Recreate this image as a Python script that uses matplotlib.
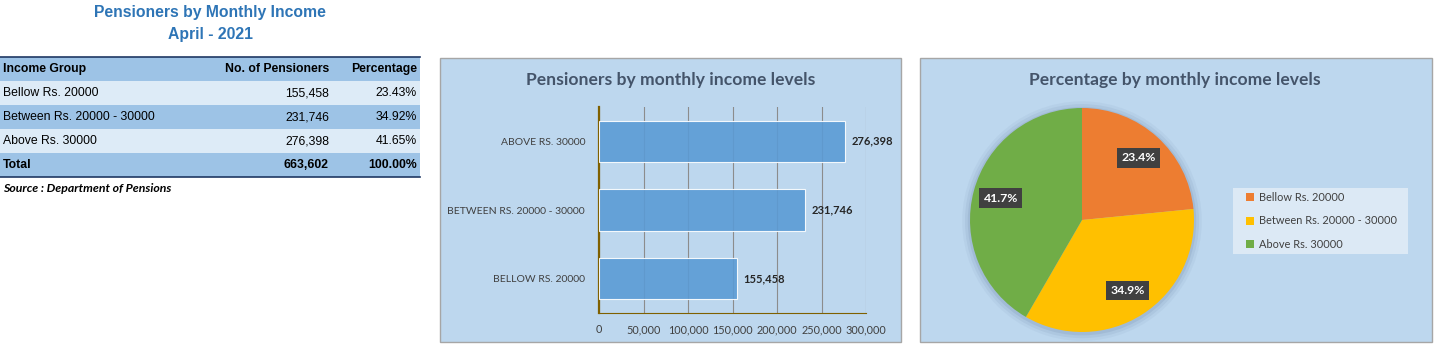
import numpy as np
import matplotlib
matplotlib.use("Agg")
import matplotlib.pyplot as plt
from matplotlib.patches import Rectangle, Circle

# data
groups = ["Bellow Rs. 20000", "Between Rs. 20000 - 30000", "Above Rs. 30000"]
pensioners = [155458, 231746, 276398]
percentages = [23.43, 34.92, 41.65]
total_pensioners = 663602
total_percentage = 100.00
x_ticks = [0, 50000, 100000, 150000, 200000, 250000, 300000]
pie_colors = ["#ED7D31", "#FFC000", "#70AD47"]

W, H = 1443, 350
fig = plt.figure(figsize=(W / 100, H / 100), dpi=100)
fig.patch.set_facecolor("white")


def rect(x0, y0, x1, y1):
    # pixel box (top-left origin) -> figure fraction
    return [x0 / W, (H - y1) / H, (x1 - x0) / W, (y1 - y0) / H]


# background layer in pixel coordinates
bg = fig.add_axes([0, 0, 1, 1])
bg.set_xlim(0, W)
bg.set_ylim(H, 0)
bg.axis("off")

tfont = "Liberation Sans"
cfont = "Lato"

# heading
bg.text(210, 12, "Pensioners by Monthly Income", ha="center", va="center",
        fontsize=11.3, fontweight="bold", color="#2E75B6", family=tfont)
bg.text(210, 34, "April - 2021", ha="center", va="center",
        fontsize=11.3, fontweight="bold", color="#2E75B6", family=tfont)

# table
row_h = 24
top = 57
dark, light = "#9DC3E6", "#DDEBF7"
rows = [("Income Group", "No. of Pensioners", "Percentage", True, dark)]
for i, g in enumerate(groups):
    rows.append((g, f"{pensioners[i]:,}", f"{percentages[i]:.2f}%", False,
                 light if i % 2 == 0 else dark))
rows.append(("Total", f"{total_pensioners:,}", f"{total_percentage:.2f}%", True, dark))

for r, (c0, c1, c2, bold, col) in enumerate(rows):
    y0 = top + r * row_h
    bg.add_patch(Rectangle((0, y0), 420, row_h, facecolor=col, edgecolor="none"))
    yc = y0 + row_h / 2
    fw = "bold" if bold else "normal"
    bg.text(3, yc, c0, ha="left", va="center", fontsize=8.8, fontweight=fw,
            color="black", family=tfont)
    bg.text(329, yc, c1, ha="right", va="center", fontsize=8.8, fontweight=fw,
            color="black", family=tfont)
    bg.text(417, yc, c2, ha="right", va="center", fontsize=8.8, fontweight=fw,
            color="black", family=tfont)
bg.plot([0, 420], [top, top], color="#1F3864", lw=1.2)
bg.plot([0, 420], [top + 5 * row_h, top + 5 * row_h], color="#1F3864", lw=1.2)
bg.text(3, 189, "Source : Department of Pensions", ha="left", va="center",
        fontsize=8.8, fontweight="bold", fontstyle="italic", color="black", family=cfont)

# chart panels
panel_bg = "#BDD7EE"
for (x0, y0, x1, y1) in [(440, 58, 901, 342), (920, 58, 1432, 342)]:
    bg.add_patch(Rectangle((x0, y0), x1 - x0, y1 - y0, facecolor=panel_bg,
                           edgecolor="#A6A6A6", lw=1))
# legend background box
bg.add_patch(Rectangle((1233, 188), 175, 66, facecolor="#DCE9F5", edgecolor="none"))

bg.text(671, 80, "Pensioners by monthly income levels", ha="center", va="center",
        fontsize=12.6, fontweight="bold", color="#44546A", family=cfont)
bg.text(1175, 80, "Percentage by monthly income levels", ha="center", va="center",
        fontsize=12.6, fontweight="bold", color="#44546A", family=cfont)

# bar chart
ax = fig.add_axes(rect(599, 107, 866, 313))
ax.patch.set_alpha(0)
ypos = np.arange(len(groups))
ax.barh(ypos, pensioners, height=0.6, color="#5B9BD5", alpha=0.9,
        edgecolor="white", linewidth=0.8, zorder=3)
for y, v in zip(ypos, pensioners):
    ax.text(v + 7000, y, f"{v:,}", ha="left", va="center", fontsize=8,
            fontweight="bold", color="#262626", family=cfont)
ax.set_xlim(0, 300000)
ax.set_ylim(-0.5, len(groups) - 0.5)
ax.set_yticks(ypos)
ax.set_yticklabels([g.upper() for g in groups], family=cfont, fontsize=7.5, color="#404040")
ax.set_xticks(x_ticks)
ax.set_xticklabels([f"{t:,}" for t in x_ticks], family=cfont, fontsize=7.8, color="#404040")
ax.tick_params(length=0, pad=10)
ax.tick_params(axis="x", pad=8)
ax.grid(axis="x", color="#8C8C8C", lw=0.8, zorder=0)
for s in ["top", "right"]:
    ax.spines[s].set_visible(False)
ax.spines["left"].set_color("#7F6000")
ax.spines["left"].set_linewidth(1.6)
ax.spines["bottom"].set_color("#7F6000")
ax.spines["bottom"].set_linewidth(0.8)

# pie chart
pax = fig.add_axes(rect(970, 108, 1194, 332))
pax.patch.set_alpha(0)
for k, a in zip([1.07, 1.045, 1.02], [0.04, 0.06, 0.08]):
    pax.add_patch(Circle((0, -0.01), k, color="#1F3864", alpha=a, lw=0,
                         zorder=0, clip_on=False))
wedges, _, autotexts = pax.pie(percentages, colors=pie_colors, startangle=90,
                               counterclock=False, autopct="%.1f%%", pctdistance=0.75,
                               radius=1, wedgeprops=dict(linewidth=0),
                               textprops=dict(color="white", fontsize=8.8,
                                              fontweight="bold", family=cfont))
for w in wedges:
    w.set_zorder(2)
for t in autotexts:
    t.set_zorder(4)
    t.set_bbox(dict(boxstyle="square,pad=0.35", facecolor="#404040", edgecolor="none"))
pax.set_xlim(-1, 1)
pax.set_ylim(-1, 1)
pax.set_aspect("equal")
pax.axis("off")

fig.legend(wedges, groups, loc="center left",
           bbox_to_anchor=(1246 / W, (H - 221) / H), frameon=False,
           prop=dict(family=cfont, size=7.9), labelcolor="#404040",
           handlelength=0.7, handleheight=0.7, handletextpad=0.5,
           labelspacing=1.15, borderpad=0, borderaxespad=0)

fig.savefig("out.png", dpi=100)
